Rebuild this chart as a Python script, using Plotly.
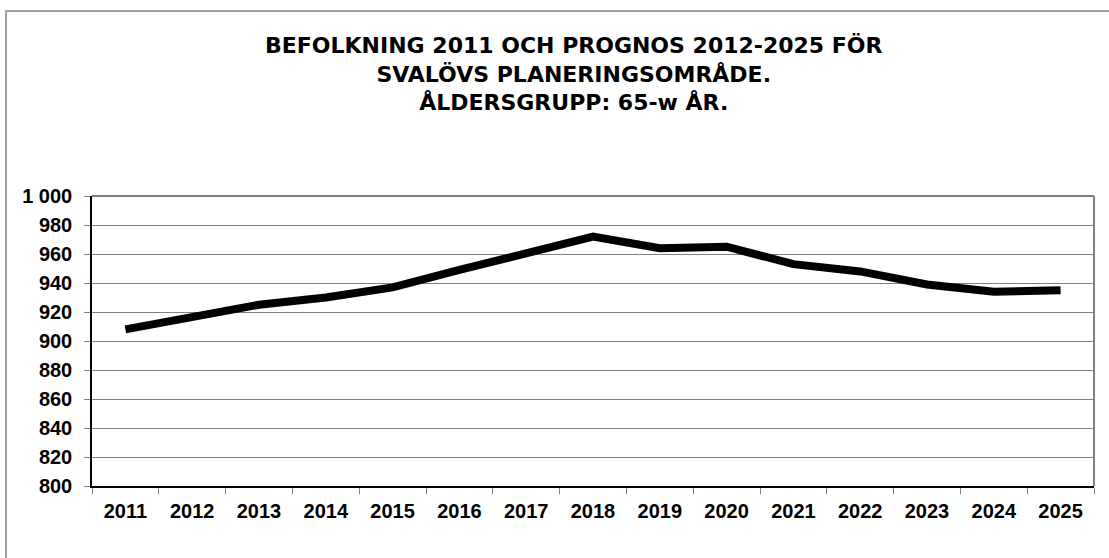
import plotly.graph_objects as go

# Population forecast, age group 65+, Svalöv planning area
years = ["2011", "2012", "2013", "2014", "2015", "2016", "2017", "2018",
         "2019", "2020", "2021", "2022", "2023", "2024", "2025"]
population = [908, 917, 925, 930, 937, 949, 961, 972,
              964, 965, 953, 948, 939, 934, 935]

y_ticks = list(range(800, 1001, 20))
y_labels = ["1 000" if v == 1000 else str(v) for v in y_ticks]

title = ("BEFOLKNING 2011 OCH PROGNOS 2012-2025 FÖR<br>"
         "SVALÖVS PLANERINGSOMRÅDE.<br>"
         "ÅLDERSGRUPP: 65-w ÅR.")

W, H = 1109, 558
L, R, T, B = 92, 15, 196, 72
pw, ph = W - L - R, H - T - B

FONT = "Liberation Sans, Arial, sans-serif"
TITLE_FONT = "DejaVu Sans, Liberation Sans, sans-serif"


def px_x(x):
    # page pixel -> paper x
    return (x - L) / pw


def px_y(y):
    # page pixel (from top) -> paper y
    return (H - B - y) / ph


fig = go.Figure()
fig.add_trace(go.Scatter(
    x=years, y=population, mode="lines",
    line=dict(color="black", width=8),
    hoverinfo="x+y", showlegend=False))

tickfont = dict(size=20, family=FONT, color="black", weight="bold")

fig.update_layout(
    width=W, height=H,
    margin=dict(l=L, r=R, t=T, b=B),
    paper_bgcolor="white", plot_bgcolor="white",
    font=dict(family=FONT, color="black"),
    xaxis=dict(
        type="category", tickson="boundaries",
        ticks="outside", ticklen=6, tickcolor="#808080",
        showline=True, linecolor="black", linewidth=1.5,
        showgrid=False, tickfont=tickfont,
        ticklabelstandoff=6,
        range=[-0.5, 14.5]),
    yaxis=dict(
        range=[800, 1000], tickvals=y_ticks, ticktext=y_labels,
        ticks="outside", ticklen=6, tickcolor="#808080",
        showline=True, linecolor="black", linewidth=1.5,
        showgrid=True, gridcolor="#808080", gridwidth=1,
        tickfont=tickfont, ticklabelstandoff=8,
        zeroline=False),
)

# right edge and top of the plot area
fig.add_shape(type="line", xref="paper", yref="paper",
              x0=1, x1=1, y0=0, y1=1,
              line=dict(color="#808080", width=2))
fig.add_shape(type="line", xref="paper", yref="paper",
              x0=0, x1=1, y0=1, y1=1,
              line=dict(color="#808080", width=2))

# outer chart frame (runs off the right and bottom edges)
fig.add_shape(type="rect", xref="paper", yref="paper",
              x0=px_x(6), x1=px_x(1120), y0=px_y(570), y1=px_y(11),
              line=dict(color="#a0a0a0", width=2))

fig.add_annotation(
    text=title, xref="paper", yref="paper",
    x=px_x(573.5), y=px_y(74), align="center",
    xanchor="center", yanchor="middle", showarrow=False,
    font=dict(size=22, family=TITLE_FONT, color="black", weight="bold"))

fig.write_html("out.html", config={"displayModeBar": False},
               post_script="document.body.style.margin='0';")
